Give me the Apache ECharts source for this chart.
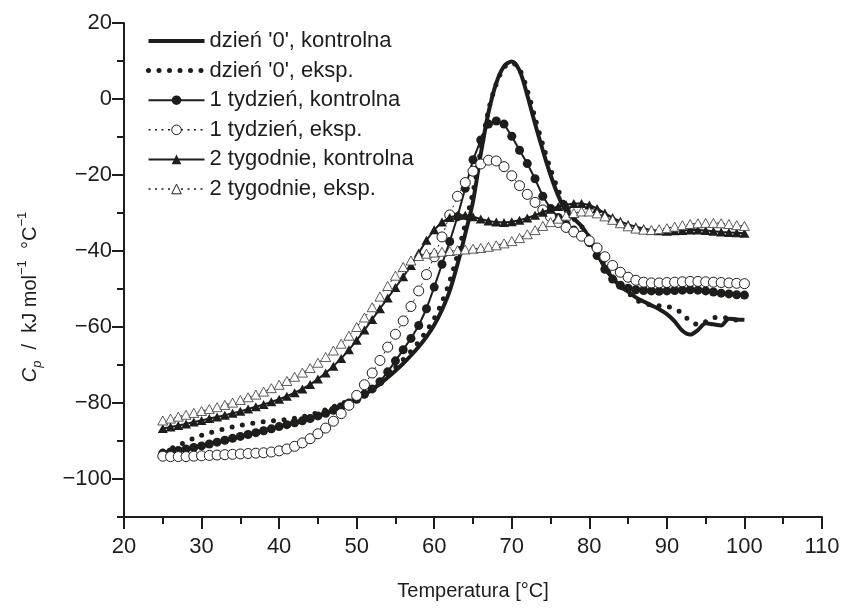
<!DOCTYPE html>
<html>
<head>
<meta charset="utf-8">
<script src="https://cdn.jsdelivr.net/npm/echarts@6/dist/echarts.min.js"></script>
<style>
html,body{margin:0;padding:0;background:#fff;}
#chart{width:843px;height:611px;}
</style>
</head>
<body>
<div id="chart"></div>
<script>
// Temperature grid (°C)
const temps = [25,26,27,28,29,30,31,32,33,34,35,36,37,38,39,40,41,42,43,44,45,46,47,48,49,50,
  51,52,53,54,55,56,57,58,59,60,61,62,63,64,65,66,67,68,69,70,71,72,73,74,75,76,77,78,79,80,
  81,82,83,84,85,86,87,88,89,90,91,92,93,94,95,96,97,98,99,100];

// dzień '0', kontrolna
const day0Control = [-93.2,-92.9,-92.5,-92.1,-91.7,-91.3,-90.8,-90.3,-89.8,-89.3,-88.8,-88.3,-87.8,-87.3,-86.8,-86.2,
  -85.7,-85.2,-84.7,-84.1,-83.4,-82.7,-81.9,-81.0,-80.0,-79.0,-77.8,-76.5,-75.0,-73.3,-71.5,-69.6,-67.5,-65.2,-62.6,
  -59.5,-55.5,-50.5,-43.5,-35.5,-27.0,-14.5,-3.5,4.2,8.6,9.9,7.5,1.0,-6.5,-13.5,-20.0,-25.5,-29.5,-31.5,-33.5,-36.5,
  -40.5,-44.3,-47.2,-49.3,-50.7,-52.2,-53.3,-54.3,-55.3,-56.6,-58.5,-61.0,-62.0,-60.8,-59.0,-59.3,-59.6,-57.8,-58.0,-58.1];

// dzień '0', eksp.
const day0Exp = [-92.6,-92.0,-91.2,-90.2,-89.3,-88.5,-87.9,-87.3,-86.8,-86.3,-85.9,-85.5,-85.2,-84.9,-84.7,-84.5,
  -84.3,-84.0,-83.6,-83.1,-82.5,-81.8,-81.0,-80.2,-79.3,-78.4,-77.3,-75.9,-74.3,-72.5,-70.6,-68.6,-66.4,-63.9,-61.1,
  -57.8,-53.5,-48.0,-41.0,-33.0,-24.5,-13.5,-3.0,4.0,8.3,9.5,7.8,2.3,-5.0,-12.0,-18.5,-24.0,-28.5,-31.5,-33.5,-36.5,
  -40.3,-44.0,-47.0,-49.2,-51.0,-52.8,-53.8,-54.2,-54.4,-54.6,-55.2,-56.5,-58.5,-59.3,-58.6,-57.6,-57.3,-57.8,-58.2,-58.1];

// 1 tydzień, kontrolna
const week1Control = [-93.2,-92.9,-92.5,-92.1,-91.7,-91.3,-90.8,-90.3,-89.8,-89.3,-88.8,-88.3,-87.8,-87.3,-86.8,-86.2,
  -85.7,-85.2,-84.7,-84.1,-83.4,-82.7,-81.9,-81.0,-80.0,-79.0,-77.7,-76.3,-74.4,-71.8,-68.9,-66.0,-63.0,-59.6,-55.2,
  -49.5,-43.5,-37.5,-31.0,-23.5,-16.0,-10.8,-6.6,-5.8,-6.6,-9.8,-13.5,-17.0,-21.0,-25.6,-28.8,-31.2,-33.0,-34.5,-35.8,-37.8,
  -41.2,-44.8,-47.4,-49.0,-49.8,-50.2,-50.4,-50.5,-50.6,-50.5,-50.4,-50.3,-50.2,-50.3,-50.5,-50.8,-51.1,-51.3,-51.5,-51.6];

// 1 tydzień, eksp.
const week1Exp = [-94.0,-94.1,-94.1,-94.1,-94.0,-93.9,-93.8,-93.7,-93.6,-93.5,-93.4,-93.3,-93.2,-93.1,-92.9,-92.6,
  -92.1,-91.4,-90.5,-89.4,-88.1,-86.6,-84.8,-82.8,-80.6,-78.0,-75.2,-72.1,-68.8,-65.3,-61.9,-58.4,-54.6,-50.5,-46.2,
  -41.5,-36.3,-30.5,-25.6,-22.0,-19.0,-17.1,-16.1,-16.3,-17.8,-20.2,-22.8,-25.1,-27.2,-29.2,-31.0,-32.5,-33.8,-35.0,-36.1,-37.3,
  -39.2,-41.5,-43.8,-45.6,-46.9,-47.7,-48.2,-48.4,-48.4,-48.3,-48.2,-48.1,-48.0,-48.0,-48.1,-48.2,-48.3,-48.4,-48.5,-48.6];

// 2 tygodnie, kontrolna
const week2Control = [-86.7,-86.3,-85.9,-85.5,-85.0,-84.6,-84.1,-83.7,-83.2,-82.7,-82.2,-81.6,-81.0,-80.4,-79.7,-79.0,
  -78.2,-77.3,-76.3,-75.1,-73.7,-72.1,-70.3,-68.3,-66.0,-63.5,-60.8,-58.0,-55.2,-52.4,-49.6,-46.8,-43.8,-40.5,-37.2,
  -34.4,-32.4,-31.2,-30.6,-30.6,-31.0,-31.6,-32.1,-32.4,-32.5,-32.3,-31.9,-31.3,-30.6,-29.8,-29.0,-28.3,-27.8,-27.5,-27.5,-27.9,
  -28.8,-30.0,-31.2,-32.2,-33.0,-33.6,-34.1,-34.5,-34.7,-34.8,-34.7,-34.6,-34.5,-34.5,-34.6,-34.8,-35.0,-35.1,-35.2,-35.3];

// 2 tygodnie, eksp.
const week2Exp = [-84.6,-84.1,-83.6,-83.1,-82.6,-82.1,-81.6,-81.1,-80.5,-79.9,-79.2,-78.5,-77.8,-77.0,-76.1,-75.2,
  -74.2,-73.1,-72.0,-70.8,-69.4,-67.9,-66.2,-64.4,-62.3,-60.0,-57.5,-54.8,-52.0,-49.2,-46.5,-44.2,-42.5,-41.3,-40.7,
  -40.4,-40.2,-40.0,-39.8,-39.6,-39.4,-39.2,-38.9,-38.5,-38.0,-37.4,-36.6,-35.6,-34.5,-33.4,-32.4,-31.5,-30.7,-30.0,-29.6,-29.6,
  -30.1,-30.9,-31.8,-32.7,-33.5,-34.1,-34.4,-34.5,-34.3,-34.0,-33.6,-33.2,-32.9,-32.7,-32.6,-32.6,-32.7,-32.9,-33.2,-33.4];

const seriesNames = ["dzień '0', kontrolna", "dzień '0', eksp.", "1 tydzień, kontrolna",
  "1 tydzień, eksp.", "2 tygodnie, kontrolna", "2 tygodnie, eksp."];

const yMajorTicks = [-100,-80,-60,-40,-20,0,20];

const INK = '#1d1d1b';
const FONT = '"Liberation Sans", Arial, Helvetica, sans-serif';

function pairs(vals){ return temps.map((t,i)=>[t, vals[i]]); }

const chart = echarts.init(document.getElementById('chart'), null, {renderer:'canvas'});

const openStyle = {color:'#fff', borderColor: INK, borderWidth: 1};

const option = {
  animation: false,
  backgroundColor: '#fff',
  grid: {left: 124, right: 21, top: 23, bottom: 94, containLabel: false},
  legend: {
    orient: 'vertical', left: 146, top: 30, padding: 0,
    itemWidth: 56, itemHeight: 12, itemGap: 7.6,
    selectedMode: false,
    textStyle: {fontSize: 22, color: INK, fontFamily: FONT, lineHeight: 22},
    data: [
      {name: seriesNames[0], itemStyle: {opacity: 0}, lineStyle: {width: 4, color: INK}},
      {name: seriesNames[1], itemStyle: {opacity: 0}, lineStyle: {width: 5, color: INK, type: [0, 10.5], cap: 'round'}},
      {name: seriesNames[2], lineStyle: {width: 2, color: INK}},
      {name: seriesNames[3], itemStyle: {color: '#fff', borderColor: INK, borderWidth: 1}, lineStyle: {width: 1.5, color: INK, type: [2, 4.5]}},
      {name: seriesNames[4], lineStyle: {width: 2, color: INK}},
      {name: seriesNames[5], itemStyle: {color: '#fff', borderColor: INK, borderWidth: 1}, lineStyle: {width: 1.5, color: INK, type: [2, 4.5]}}
    ]
  },
  xAxis: {
    type: 'value', min: 20, max: 110, interval: 10,
    name: 'Temperatura [°C]', nameLocation: 'middle', nameGap: 64,
    nameTextStyle: {fontSize: 20, color: INK, fontFamily: FONT},
    axisLine: {show: true, onZero: false, lineStyle: {color: INK, width: 2}},
    axisTick: {show: true, inside: false, length: 12, lineStyle: {color: INK, width: 2}},
    minorTick: {show: true, splitNumber: 2, length: 7, lineStyle: {color: INK, width: 2}},
    axisLabel: {fontSize: 22, color: INK, fontFamily: FONT, margin: 19},
    splitLine: {show: false}, minorSplitLine: {show: false}
  },
  yAxis: [{
    type: 'value', min: -110, max: 20,
    name: '{i|C}{sub|p}{n|  /  kJ mol}{sup|−1}{n|  °C}{sup|−1}',
    nameLocation: 'middle', nameGap: 80, nameRotate: 90,
    nameTextStyle: {
      fontSize: 20, color: INK, fontFamily: FONT, padding: [0, 54, 0, 0],
      rich: {
        i: {fontSize: 20, fontStyle: 'italic', fontFamily: FONT, color: INK, lineHeight: 28, verticalAlign: 'middle'},
        sub: {fontSize: 13, fontStyle: 'italic', fontFamily: FONT, color: INK, lineHeight: 28, verticalAlign: 'bottom'},
        n: {fontSize: 20, fontFamily: FONT, color: INK, lineHeight: 28, verticalAlign: 'middle'},
        sup: {fontSize: 13, fontFamily: FONT, color: INK, lineHeight: 28, verticalAlign: 'top'}
      }
    },
    axisLine: {show: true, onZero: false, lineStyle: {color: INK, width: 2}},
    axisTick: {show: true, inside: false, length: 12, customValues: yMajorTicks, lineStyle: {color: INK, width: 2}},
    axisLabel: {fontSize: 22, color: INK, fontFamily: FONT, margin: 12, customValues: yMajorTicks,
      formatter: v => (v < 0 ? '−' + Math.abs(v) : String(v))},
    splitLine: {show: false}
  }, {
    type: 'value', min: -110, max: 20, interval: 10, position: 'left',
    axisLine: {show: false},
    axisTick: {show: true, inside: false, length: 7, lineStyle: {color: INK, width: 2}},
    axisLabel: {show: false},
    splitLine: {show: false}
  }],
  series: [
    {name: seriesNames[0], type: 'line', data: pairs(day0Control), symbol: 'none', smooth: 0.3,
      itemStyle: {color: INK}, lineStyle: {color: INK, width: 4}, z: 2},
    {name: seriesNames[1], type: 'line', data: pairs(day0Exp), symbol: 'none', smooth: 0.3,
      itemStyle: {color: INK}, lineStyle: {color: INK, width: 5, type: [0, 10.5], cap: 'round'}, z: 3},
    {name: seriesNames[2], type: 'line', data: pairs(week1Control), symbol: 'circle', symbolSize: 9,
      itemStyle: {color: INK}, lineStyle: {color: INK, width: 2}, z: 4},
    {name: seriesNames[3], type: 'line', data: pairs(week1Exp), symbol: 'circle', symbolSize: 10,
      itemStyle: openStyle, lineStyle: {color: INK, width: 1, type: [2, 4]}, z: 5},
    {name: seriesNames[4], type: 'line', data: pairs(week2Control), symbol: 'triangle', symbolSize: [10, 9],
      itemStyle: {color: INK}, lineStyle: {color: INK, width: 2}, z: 6},
    {name: seriesNames[5], type: 'line', data: pairs(week2Exp), symbol: 'triangle', symbolSize: [10, 9],
      itemStyle: {color: '#fff', borderColor: '#333', borderWidth: 0.8}, lineStyle: {color: INK, width: 1, type: [2, 4]}, z: 7}
  ]
};
chart.setOption(option);
</script>
</body>
</html>
